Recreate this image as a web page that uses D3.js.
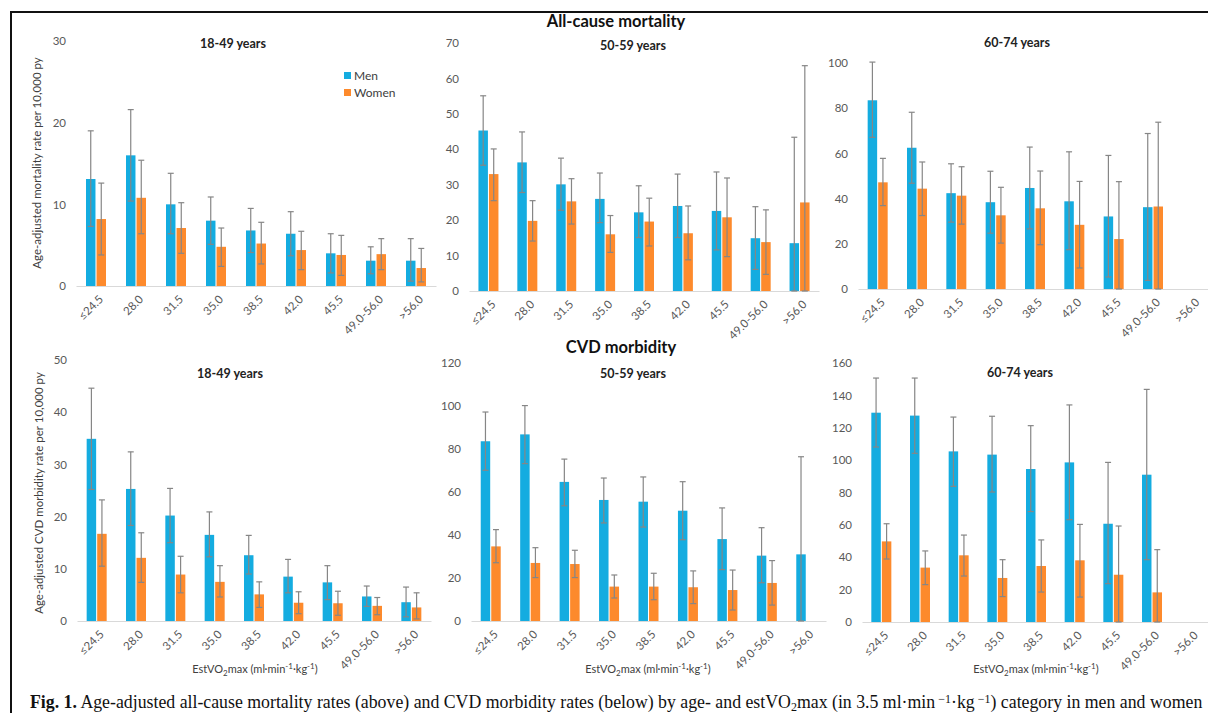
<!DOCTYPE html>
<html>
<head>
<meta charset="utf-8">
<script src="https://cdn.jsdelivr.net/npm/d3@7"></script>
<style>
  body { margin: 0; background: #fff; }
  svg { display: block; }
</style>
</head>
<body>
<svg id="figure"></svg>
<script>
/*
 *  Data: [rate, lower CI, upper CI] per estVO2max category
 */
var categories = ["≤24.5", "28.0", "31.5", "35.0", "38.5", "42.0", "45.5", "49.0-56.0", ">56.0"];
var series = ["Men", "Women"];

// all-cause mortality
var acm1849Men   = [[13.1,7.3,19.0],[16.0,10.4,21.6],[10.0,6.4,13.8],[8.0,5.1,10.9],[6.8,4.1,9.5],[6.4,3.7,9.1],[4.0,1.6,6.4],[3.1,1.5,4.8],[3.1,0.6,5.8]];
var acm1849Women = [[8.2,3.8,12.6],[10.8,6.4,15.4],[7.1,4.0,10.2],[4.8,2.4,7.1],[5.2,2.7,7.8],[4.4,2.0,6.7],[3.8,1.3,6.2],[3.9,2.0,5.8],[2.2,0.5,4.6]];
var acm5059Men   = [[45.3,35.5,55.1],[36.3,27.8,44.9],[30.1,22.8,37.5],[26.0,19.3,33.3],[22.2,15.1,29.7],[24.0,15.1,33.0],[22.6,11.6,33.6],[14.9,6.1,23.8],[13.5,0,43.4]];
var acm5059Women = [[33.0,25.5,40.1],[19.8,14.1,25.5],[25.3,18.9,31.7],[16.0,10.9,21.3],[19.6,12.7,26.2],[16.3,8.8,24.0],[20.8,9.7,31.9],[13.8,4.7,22.9],[25.0,0,63.6]];
var acm6074Men   = [[83.5,67.1,100.4],[62.5,46.8,78.2],[42.4,29.6,55.4],[38.4,24.7,52.1],[44.7,26.6,62.8],[38.8,17.4,60.7],[32.1,5.3,59.1],[36.2,3.8,68.8],null];
var acm6074Women = [[47.2,36.9,57.8],[44.4,32.5,56.2],[41.3,28.7,54.1],[32.6,20.3,45.0],[35.7,19.6,52.2],[28.4,9.3,47.6],[22.1,0,47.5],[36.5,0,73.8],null];

// CVD morbidity
var cvd1849Men   = [[34.9,25.2,44.6],[25.3,18.3,32.4],[20.2,15.0,25.4],[16.5,12.3,20.9],[12.6,9.0,16.4],[8.5,5.4,11.8],[7.4,4.1,10.6],[4.7,2.8,6.7],[3.6,0.8,6.5]];
var cvd1849Women = [[16.7,10.5,23.2],[12.1,7.4,16.9],[8.9,5.4,12.4],[7.5,4.6,10.6],[5.1,2.6,7.5],[3.5,1.4,5.6],[3.4,1.1,5.7],[2.9,1.2,4.5],[2.6,0.4,5.4]];
var cvd5059Men   = [[83.6,70.1,97.2],[86.8,73.2,100.2],[64.7,53.6,75.3],[56.3,45.6,66.5],[55.5,43.7,67.0],[51.3,37.8,64.8],[38.1,23.9,52.6],[30.4,17.8,43.4],[31.0,0,76.4]];
var cvd5059Women = [[34.7,27.1,42.5],[27.0,20.2,34.1],[26.5,20.2,32.9],[16.0,10.7,21.4],[16.0,9.9,22.2],[15.7,8.1,23.3],[14.4,5.1,23.7],[17.7,7.4,28.1],null];
var cvd6074Men   = [[129.3,108.1,150.7],[127.5,104.2,150.7],[105.4,83.8,126.6],[103.4,80.3,127.1],[94.5,68.2,121.3],[98.6,63.2,134.1],[60.7,23.7,98.6],[91.0,38.5,143.7],null];
var cvd6074Women = [[49.8,38.9,60.7],[33.6,23.1,43.9],[41.2,28.4,53.7],[27.2,15.7,38.5],[34.6,18.5,50.7],[38.1,15.4,60.3],[29.2,0,59.3],[18.3,0,44.7],null];

// y axis tick values per panel
var ticksAcm1849 = [0, 10, 20, 30];
var ticksAcm5059 = [0, 10, 20, 30, 40, 50, 60, 70];
var ticksAcm6074 = [0, 20, 40, 60, 80, 100];
var ticksCvd1849 = [0, 10, 20, 30, 40, 50];
var ticksCvd5059 = [0, 20, 40, 60, 80, 100, 120];
var ticksCvd6074 = [0, 20, 40, 60, 80, 100, 120, 140, 160];

var colors = { Men: "#14ace0", Women: "#fd8a2c" };
var font = "Lato, 'Open Sans', sans-serif";

/*
 *  Canvas
 */
var width = 1208,
    height = 713;

var svg = d3.select("#figure")
    .attr("width", width)
    .attr("height", height);

svg.append("rect").attr("width", width).attr("height", height).attr("fill", "#fff");

// frame of the figure box
svg.append("path")
    .attr("d", "M11,713 V12 H1208")
    .attr("fill", "none")
    .attr("stroke", "#111")
    .attr("stroke-width", 2);

// panel layout (pixel boxes)
var panels = [
  { men: acm1849Men, women: acm1849Women, ticks: ticksAcm1849, x0: 76,  x1: 436,  base: 286, top: 41,  title: "18-49 years", tx: 233,  ty: 48 },
  { men: acm5059Men, women: acm5059Women, ticks: ticksAcm5059, x0: 469, x1: 819,  base: 291, top: 43,  title: "50-59 years", tx: 633,  ty: 50 },
  { men: acm6074Men, women: acm6074Women, ticks: ticksAcm6074, x0: 858, x1: 1212, base: 289, top: 63,  title: "60-74 years", tx: 1017, ty: 47 },
  { men: cvd1849Men, women: cvd1849Women, ticks: ticksCvd1849, x0: 77,  x1: 431,  base: 621, top: 360, title: "18-49 years", tx: 230,  ty: 378, xtitle: 255 },
  { men: cvd5059Men, women: cvd5059Women, ticks: ticksCvd5059, x0: 471, x1: 826,  base: 621, top: 363, title: "50-59 years", tx: 633,  ty: 378, xtitle: 648 },
  { men: cvd6074Men, women: cvd6074Women, ticks: ticksCvd6074, x0: 862, x1: 1210, base: 622, top: 363, title: "60-74 years", tx: 1020, ty: 377, xtitle: 1036 }
];

panels.forEach(drawPanel);

function drawPanel(p) {
  var g = svg.append("g");

  var x = d3.scaleBand().domain(categories).range([p.x0, p.x1]);
  var y = d3.scaleLinear().domain([0, d3.max(p.ticks)]).range([p.base, p.top]);
  var sub = d3.scaleBand().domain(series).range([-10, 10]).paddingInner(0.1);

  // y tick labels, no axis line
  var yAxis = g.append("g")
      .attr("transform", "translate(" + (p.x0 - 10) + ",0)")
      .call(d3.axisLeft(y).tickValues(p.ticks).tickSize(0).tickPadding(0));
  yAxis.select(".domain").remove();
  yAxis.selectAll("text")
      .attr("font-family", font)
      .attr("font-size", 11.5)
      .attr("fill", "#595959");

  // x baseline + rotated labels
  var xAxis = g.append("g")
      .attr("transform", "translate(0," + p.base + ")")
      .call(d3.axisBottom(x).tickSize(0).tickPadding(0));
  xAxis.select(".domain").attr("stroke", "#d9d9d9").attr("stroke-width", 1.2);
  xAxis.selectAll(".tick text")
      .attr("font-family", font)
      .attr("font-size", 11.5)
      .attr("fill", "#595959")
      .attr("text-anchor", "end")
      .attr("dy", null)
      .attr("transform", "translate(8,14) rotate(-45)");

  var rows = [];
  categories.forEach(function(c, i) {
    series.forEach(function(s) {
      var d = (s == "Men" ? p.men : p.women)[i];
      if (d) rows.push({ cat: c, s: s, v: d[0], lo: d[1], hi: d[2] });
    });
  });

  var item = g.selectAll(".bar")
      .data(rows)
      .enter().append("g")
      .attr("transform", function(d) {
        return "translate(" + (x(d.cat) + x.bandwidth() / 2 + sub(d.s)) + ",0)";
      });

  item.append("rect")
      .attr("width", sub.bandwidth())
      .attr("y", function(d) { return y(d.v); })
      .attr("height", function(d) { return y(0) - y(d.v); })
      .attr("fill", function(d) { return colors[d.s]; });

  // error bars with caps
  var bw = sub.bandwidth() / 2;
  item.append("line")
      .attr("x1", bw).attr("x2", bw)
      .attr("y1", function(d) { return y(d.lo); })
      .attr("y2", function(d) { return y(d.hi); });
  item.append("line")
      .attr("x1", bw - 3).attr("x2", bw + 3)
      .attr("y1", function(d) { return y(d.hi); })
      .attr("y2", function(d) { return y(d.hi); });
  item.append("line")
      .attr("x1", bw - 3).attr("x2", bw + 3)
      .attr("y1", function(d) { return y(d.lo); })
      .attr("y2", function(d) { return y(d.lo); });
  item.selectAll("line")
      .attr("stroke", "#868686")
      .attr("stroke-width", 1.2);

  g.append("text")
      .attr("x", p.tx).attr("y", p.ty)
      .attr("text-anchor", "middle")
      .attr("font-family", font)
      .attr("font-weight", "bold")
      .attr("font-size", 12.5)
      .attr("fill", "#222")
      .text(p.title);

  if (p.xtitle) {
    var t = g.append("text")
        .attr("x", p.xtitle).attr("y", 673)
        .attr("text-anchor", "middle")
        .attr("font-family", font)
        .attr("font-size", 11)
        .attr("fill", "#404040");
    t.append("tspan").text("EstVO");
    t.append("tspan").attr("font-size", 8).attr("dy", 3).text("2");
    t.append("tspan").attr("dy", -3).text("max (ml·min");
    t.append("tspan").attr("font-size", 8).attr("dy", -4).text("-1");
    t.append("tspan").attr("dy", 4).text("·kg");
    t.append("tspan").attr("font-size", 8).attr("dy", -4).text("-1");
    t.append("tspan").attr("dy", 4).text(")");
  }
}

// section titles
svg.append("text")
    .attr("x", 616).attr("y", 27)
    .attr("text-anchor", "middle")
    .attr("font-family", font).attr("font-weight", "bold").attr("font-size", 16.5)
    .attr("fill", "#111")
    .text("All-cause mortality");
svg.append("text")
    .attr("x", 621).attr("y", 353)
    .attr("text-anchor", "middle")
    .attr("font-family", font).attr("font-weight", "bold").attr("font-size", 16.5)
    .attr("fill", "#111")
    .text("CVD morbidity");

// y axis titles
svg.append("text")
    .attr("transform", "translate(41,163) rotate(-90)")
    .attr("text-anchor", "middle")
    .attr("font-family", font).attr("font-size", 11.5).attr("fill", "#404040")
    .text("Age-adjusted mortality rate per 10,000 py");
svg.append("text")
    .attr("transform", "translate(43,493) rotate(-90)")
    .attr("text-anchor", "middle")
    .attr("font-family", font).attr("font-size", 11.5).attr("fill", "#404040")
    .text("Age-adjusted CVD morbidity rate per 10,000 py");

// legend
var legend = svg.selectAll(".legend")
    .data(series)
    .enter().append("g")
    .attr("transform", function(d, i) { return "translate(344," + (72 + i * 17) + ")"; });
legend.append("rect")
    .attr("width", 7).attr("height", 7)
    .attr("fill", function(d) { return colors[d]; });
legend.append("text")
    .attr("x", 10).attr("y", 7.5)
    .attr("font-family", font).attr("font-size", 12).attr("fill", "#404040")
    .text(function(d) { return d; });

// caption
var cap = svg.append("text")
    .attr("x", 30).attr("y", 708)
    .attr("font-family", "'Liberation Serif', 'DejaVu Serif', serif")
    .attr("font-size", 17.8)
    .attr("fill", "#111");
cap.append("tspan").attr("font-weight", "bold").text("Fig. 1.");
cap.append("tspan").text(" Age-adjusted all-cause mortality rates (above) and CVD morbidity rates (below) by age- and estVO");
cap.append("tspan").attr("font-size", 12).attr("dy", 3).text("2");
cap.append("tspan").attr("dy", -3).text("max (in 3.5 ml·min");
cap.append("tspan").attr("font-size", 12).attr("dy", -5).text(" −1");
cap.append("tspan").attr("dy", 5).text("·kg");
cap.append("tspan").attr("font-size", 12).attr("dy", -5).text(" −1");
cap.append("tspan").attr("dy", 5).text(") category in men and women");
</script>
</body>
</html>
